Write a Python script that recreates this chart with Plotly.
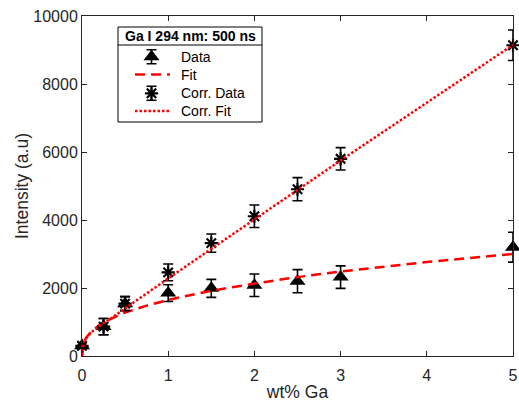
import plotly.graph_objects as go

# Measured data
x_data = [0, 0.25, 0.5, 1, 1.5, 2, 2.5, 3, 5]
y_data = [300, 865, 1540, 1850, 1990, 2080, 2200, 2320, 3200]
err_data = [90, 240, 205, 245, 265, 330, 340, 330, 440]

x_corr = [0, 0.25, 0.5, 1, 1.5, 2, 2.5, 3, 5]
y_corr = [300, 865, 1540, 2460, 3320, 4110, 4905, 5800, 9140]
err_corr = [90, 240, 205, 245, 270, 330, 340, 330, 450]

# Fit curves
x_fit = [0, 0.01, 0.02, 0.05, 0.1, 0.2, 0.3, 0.5, 0.75, 1, 1.5, 2, 2.5, 3, 3.5, 4, 4.5, 5]
y_fit = [0, 300, 390, 545, 700, 910, 1055, 1280, 1480, 1650, 1920, 2130, 2320, 2485, 2630, 2765, 2885, 3000]
x_cfit = [0, 0.01, 0.02, 0.05, 0.1, 0.2, 0.3, 0.5, 0.75, 1, 1.5, 2, 2.5, 3, 3.5, 4, 4.5, 5]
y_cfit = [0, 290, 380, 520, 680, 880, 1040, 1400, 1850, 2280, 3150, 4020, 4880, 5750, 6600, 7450, 8300, 9150]

x_ticks = [0, 1, 2, 3, 4, 5]
y_ticks = [0, 2000, 4000, 6000, 8000, 10000]

legend_title = "Ga I 294 nm: 500 ns"
legend_names = ["Data", "Fit", "Corr. Data", "Corr. Fit"]

FONT = "Liberation Sans, Arial, sans-serif"
AX = "#262626"
RED = "#ff0000"
FIT_DASH = "10px,6px"
DOT_DASH = "2.5px,2px"

# plot-area geometry in pixels (used to place the hand-built legend)
L, R, T, B = 82, 513, 16, 356
W_FIG, H_FIG = 519, 402

fig = go.Figure()
fig.add_trace(go.Scatter(
    x=x_data, y=y_data, mode="markers", name=legend_names[0],
    marker=dict(symbol="triangle-up", size=14, color="black"),
    error_y=dict(type="data", array=err_data, color="black", thickness=1.6, width=5),
    cliponaxis=False, showlegend=False))
fig.add_trace(go.Scatter(
    x=x_fit, y=y_fit, mode="lines", name=legend_names[1],
    line=dict(color=RED, width=2.5, dash=FIT_DASH), cliponaxis=False, showlegend=False))
fig.add_trace(go.Scatter(
    x=x_corr, y=y_corr, mode="markers", name=legend_names[2],
    marker=dict(symbol="asterisk-open", size=11, color="black", line=dict(width=2.2, color="black")),
    error_y=dict(type="data", array=err_corr, color="black", thickness=1.6, width=5),
    cliponaxis=False, showlegend=False))
fig.add_trace(go.Scatter(
    x=x_cfit, y=y_cfit, mode="lines", name=legend_names[3],
    line=dict(color=RED, width=2.5, dash=DOT_DASH), cliponaxis=False, showlegend=False))

# ---- hand-built MATLAB-style legend on an overlay axis in pixel units ----
leg_l, leg_r, leg_t, leg_b = 118, 262, 27, 122
sep_y = 45
title_y = 36
row_y = [56.7, 74.5, 93.3, 111]
sym_x = 151.5
seg = (135, 170)
text_x = 179

fig.add_trace(go.Scatter(
    x=[sym_x], y=[row_y[0]], xaxis="x2", yaxis="y2", mode="markers",
    marker=dict(symbol="triangle-up", size=14, color="black"),
    error_y=dict(type="data", array=[7], color="black", thickness=1.6, width=5),
    showlegend=False, hoverinfo="skip", cliponaxis=False))
fig.add_trace(go.Scatter(
    x=list(seg), y=[row_y[1]] * 2, xaxis="x2", yaxis="y2", mode="lines",
    line=dict(color=RED, width=2.5, dash=FIT_DASH),
    showlegend=False, hoverinfo="skip", cliponaxis=False))
fig.add_trace(go.Scatter(
    x=[sym_x], y=[row_y[2]], xaxis="x2", yaxis="y2", mode="markers",
    marker=dict(symbol="asterisk-open", size=11, color="black", line=dict(width=2.2, color="black")),
    error_y=dict(type="data", array=[7], color="black", thickness=1.6, width=5),
    showlegend=False, hoverinfo="skip", cliponaxis=False))
fig.add_trace(go.Scatter(
    x=list(seg), y=[row_y[3]] * 2, xaxis="x2", yaxis="y2", mode="lines",
    line=dict(color=RED, width=2.5, dash=DOT_DASH),
    showlegend=False, hoverinfo="skip", cliponaxis=False))

def px_x(p):
    return (p - L) / (R - L)

def px_y(p):
    return (B - p) / (B - T)

fig.add_shape(type="rect", xref="paper", yref="paper",
              x0=px_x(leg_l), x1=px_x(leg_r), y0=px_y(leg_b), y1=px_y(leg_t),
              line=dict(color="black", width=1), fillcolor="white", layer="below")
fig.add_shape(type="line", xref="paper", yref="paper",
              x0=px_x(leg_l), x1=px_x(leg_r), y0=px_y(sep_y), y1=px_y(sep_y),
              line=dict(color="black", width=1))
fig.add_annotation(xref="paper", yref="paper", x=px_x((leg_l + leg_r) / 2), y=px_y(title_y),
                   text="<b>" + legend_title + "</b>", showarrow=False,
                   xanchor="center", yanchor="middle",
                   font=dict(family=FONT, size=14, color="black"))
for name, ry in zip(legend_names, row_y):
    fig.add_annotation(xref="paper", yref="paper", x=px_x(text_x), y=px_y(ry),
                       text=name, showarrow=False, xanchor="left", yanchor="middle",
                       font=dict(family=FONT, size=14, color="black"))

axis_common = dict(
    showgrid=False, zeroline=False, showline=True, linecolor=AX, linewidth=1,
    mirror="ticks", ticks="inside", ticklen=5, tickcolor=AX, automargin=False,
    tickfont=dict(family=FONT, size=16, color=AX), domain=[0, 1],
)

fig.update_layout(
    width=W_FIG, height=H_FIG,
    margin=dict(l=L, r=W_FIG - R, t=T, b=H_FIG - B, autoexpand=False),
    plot_bgcolor="white", paper_bgcolor="white",
    showlegend=False,
    xaxis=dict(range=[0, 5], tickmode="array", tickvals=x_ticks,
               ticktext=[str(t) for t in x_ticks], ticklabelstandoff=5,
               title=dict(text="wt% Ga", font=dict(family=FONT, size=17.5, color=AX), standoff=3),
               **axis_common),
    yaxis=dict(range=[0, 10000], tickmode="array", tickvals=y_ticks,
               ticktext=[str(t) for t in y_ticks],
               title=dict(text="Intensity (a.u)", font=dict(family=FONT, size=17.5, color=AX), standoff=0),
               **axis_common),
    xaxis2=dict(overlaying="x", range=[L, R], visible=False, fixedrange=True),
    yaxis2=dict(overlaying="y", range=[B, T], visible=False, fixedrange=True),
)

fig.write_html("out.html")
